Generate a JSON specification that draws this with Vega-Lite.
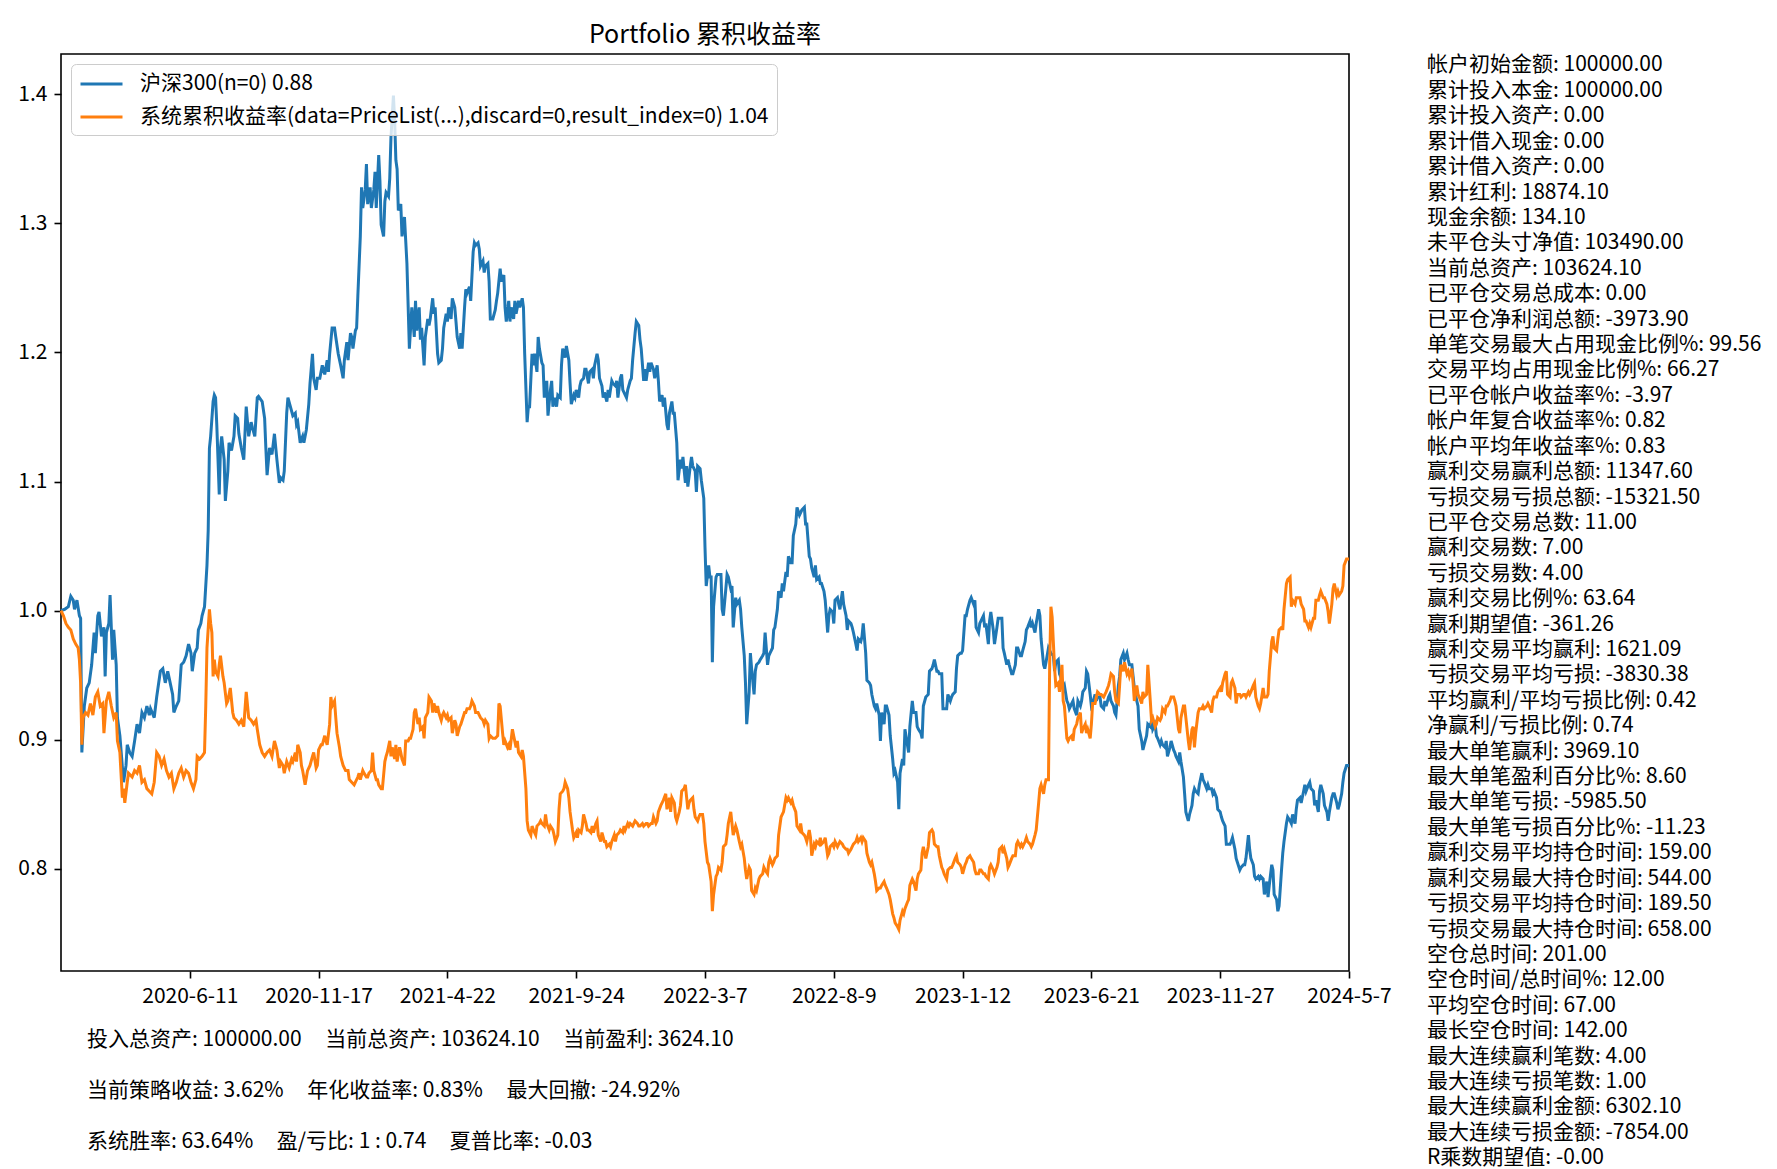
{
"$schema": "https://vega.github.io/schema/vega-lite/v6.json",
"background": "white",
"padding": {"left": 17, "top": 22, "right": 5, "bottom": 0},
"config": {"font": "Noto Sans CJK SC", "view": {"stroke": null}},
"columns": 2,
"spacing": {"row": 69, "column": 78},
"bounds": "flush",
"concat": [
{
"width": 1288,
"height": 917,
"view": {"stroke": "black", "strokeWidth": 1.6},
"title": {"text": "Portfolio 累积收益率", "fontSize": 25, "fontWeight": "normal", "color": "black", "offset": 6, "font": "Noto Sans CJK SC"},
"encoding": {
"x": {"field": "i", "type": "quantitative", "scale": {"domain": [0, 1050], "nice": false, "zero": false},
"axis": {"values": [105, 210, 315, 420, 525, 630, 735, 840, 945, 1050], "labelExpr": "['2020-6-11','2020-11-17','2021-4-22','2021-9-24','2022-3-7','2022-8-9','2023-1-12','2023-6-21','2023-11-27','2024-5-7'][round(datum.value/105)-1]", "title": null, "grid": false, "domain": false, "tickColor": "black", "tickWidth": 1.6, "tickSize": 7, "labelPadding": 7, "labelFontSize": 21, "labelColor": "black", "labelFont": "Noto Sans CJK SC", "labelOverlap": false, "labelFlush": false}},
"y": {"field": "v", "type": "quantitative", "scale": {"domain": [0.7207, 1.4313], "nice": false, "zero": false},
"axis": {"values": [0.8, 0.9, 1.0, 1.1, 1.2, 1.3, 1.4], "format": ".1f", "title": null, "grid": false, "domain": false, "tickColor": "black", "tickWidth": 1.6, "tickSize": 7, "labelPadding": 7, "labelFontSize": 21, "labelColor": "black", "labelFont": "Noto Sans CJK SC"}}
},
"layer": [
{
"data": {"values": [
{"i":0,"v":1.000},{"i":3,"v":1.001},{"i":6,"v":1.003},{"i":8,"v":1.011},{"i":10,"v":1.008},{"i":11,"v":1.001},{"i":13,"v":1.008},{"i":15,"v":0.996},{"i":16,"v":0.994},{"i":17,"v":0.890},{"i":19,"v":0.926},{"i":21,"v":0.940},{"i":23,"v":0.944},{"i":25,"v":0.958},{"i":27,"v":0.983},{"i":28,"v":0.967},{"i":30,"v":0.996},{"i":31,"v":0.999},{"i":33,"v":0.980},{"i":35,"v":0.987},{"i":36,"v":0.949},{"i":37,"v":0.983},{"i":39,"v":0.990},{"i":40,"v":1.012},{"i":42,"v":0.962},{"i":43,"v":0.985},{"i":45,"v":0.958},{"i":46,"v":0.917},{"i":48,"v":0.903},{"i":51,"v":0.867},{"i":53,"v":0.880},{"i":54,"v":0.896},{"i":56,"v":0.890},{"i":58,"v":0.887},{"i":60,"v":0.899},{"i":62,"v":0.912},{"i":64,"v":0.905},{"i":66,"v":0.921},{"i":68,"v":0.917},{"i":70,"v":0.926},{"i":72,"v":0.919},{"i":73,"v":0.924},{"i":76,"v":0.917},{"i":78,"v":0.933},{"i":81,"v":0.953},{"i":83,"v":0.955},{"i":85,"v":0.944},{"i":87,"v":0.953},{"i":89,"v":0.944},{"i":91,"v":0.935},{"i":92,"v":0.921},{"i":94,"v":0.926},{"i":96,"v":0.930},{"i":98,"v":0.958},{"i":100,"v":0.960},{"i":102,"v":0.965},{"i":104,"v":0.974},{"i":106,"v":0.967},{"i":107,"v":0.953},{"i":109,"v":0.967},{"i":111,"v":0.971},{"i":112,"v":0.985},{"i":114,"v":0.990},{"i":115,"v":0.996},{"i":117,"v":1.003},{"i":119,"v":1.035},{"i":120,"v":1.062},{"i":121,"v":1.126},{"i":122,"v":1.135},{"i":124,"v":1.162},{"i":125,"v":1.167},{"i":126,"v":1.165},{"i":127,"v":1.144},{"i":129,"v":1.090},{"i":130,"v":1.126},{"i":131,"v":1.135},{"i":133,"v":1.117},{"i":134,"v":1.085},{"i":136,"v":1.108},{"i":137,"v":1.130},{"i":139,"v":1.124},{"i":141,"v":1.135},{"i":142,"v":1.151},{"i":144,"v":1.149},{"i":145,"v":1.137},{"i":147,"v":1.126},{"i":149,"v":1.117},{"i":151,"v":1.158},{"i":153,"v":1.135},{"i":155,"v":1.146},{"i":156,"v":1.142},{"i":158,"v":1.135},{"i":160,"v":1.165},{"i":161,"v":1.166},{"i":164,"v":1.162},{"i":166,"v":1.149},{"i":167,"v":1.126},{"i":168,"v":1.105},{"i":170,"v":1.126},{"i":172,"v":1.121},{"i":174,"v":1.137},{"i":176,"v":1.117},{"i":178,"v":1.099},
{"i":179,"v":1.103},{"i":181,"v":1.101},{"i":182,"v":1.108},{"i":184,"v":1.153},{"i":185,"v":1.165},{"i":187,"v":1.158},{"i":189,"v":1.151},{"i":191,"v":1.153},{"i":192,"v":1.144},{"i":193,"v":1.146},{"i":195,"v":1.130},{"i":197,"v":1.135},{"i":198,"v":1.130},{"i":200,"v":1.140},{"i":202,"v":1.160},{"i":203,"v":1.176},{"i":205,"v":1.199},{"i":206,"v":1.180},{"i":208,"v":1.171},{"i":209,"v":1.180},{"i":211,"v":1.180},{"i":213,"v":1.190},{"i":215,"v":1.183},{"i":217,"v":1.194},{"i":218,"v":1.185},{"i":219,"v":1.199},{"i":221,"v":1.219},{"i":223,"v":1.219},{"i":224,"v":1.212},{"i":226,"v":1.199},{"i":228,"v":1.190},{"i":230,"v":1.180},{"i":231,"v":1.194},{"i":233,"v":1.208},{"i":234,"v":1.194},{"i":236,"v":1.215},{"i":237,"v":1.212},{"i":238,"v":1.203},{"i":240,"v":1.217},{"i":241,"v":1.219},{"i":242,"v":1.244},{"i":244,"v":1.290},{"i":245,"v":1.328},{"i":246,"v":1.312},{"i":248,"v":1.326},{"i":249,"v":1.346},{"i":250,"v":1.315},{"i":252,"v":1.328},{"i":253,"v":1.312},{"i":255,"v":1.326},{"i":256,"v":1.340},{"i":257,"v":1.312},{"i":259,"v":1.353},{"i":260,"v":1.333},{"i":261,"v":1.299},{"i":263,"v":1.290},{"i":264,"v":1.317},{"i":265,"v":1.324},{"i":267,"v":1.321},{"i":268,"v":1.335},{"i":269,"v":1.367},{"i":271,"v":1.399},{"i":272,"v":1.380},{"i":273,"v":1.349},{"i":274,"v":1.342},{"i":275,"v":1.310},{"i":277,"v":1.315},{"i":278,"v":1.290},{"i":280,"v":1.305},{"i":281,"v":1.287},{"i":282,"v":1.269},{"i":284,"v":1.203},{"i":285,"v":1.219},{"i":286,"v":1.235},{"i":288,"v":1.212},{"i":289,"v":1.240},{"i":290,"v":1.217},{"i":292,"v":1.235},{"i":293,"v":1.210},{"i":294,"v":1.219},{"i":296,"v":1.190},{"i":297,"v":1.212},{"i":299,"v":1.226},{"i":300,"v":1.221},{"i":301,"v":1.226},{"i":303,"v":1.242},{"i":304,"v":1.230},{"i":305,"v":1.235},{"i":307,"v":1.199},{"i":308,"v":1.192},{"i":310,"v":1.194},{"i":311,"v":1.203},{"i":312,"v":1.219},{"i":314,"v":1.230},{"i":315,"v":1.224},{"i":316,"v":1.235},{"i":318,"v":1.226},{"i":319,"v":1.242},{"i":321,"v":1.235},{"i":322,"v":1.224},{"i":323,"v":1.212},{"i":325,"v":1.203},{"i":326,"v":1.215},{"i":327,"v":1.203},{"i":329,"v":1.235},{"i":330,"v":1.249},{"i":331,"v":1.246},{"i":333,"v":1.251},{"i":334,"v":1.240},{"i":336,"v":1.278},{"i":337,"v":1.285},{"i":338,"v":1.283},{"i":340,"v":1.285},{"i":341,"v":1.280},{"i":342,"v":1.267},{"i":344,"v":1.271},{"i":345,"v":1.262},{"i":346,"v":1.267},{"i":348,"v":1.269},{"i":349,"v":1.255},{"i":350,"v":1.226},{"i":352,"v":1.226},{"i":354,"v":1.233},
{"i":355,"v":1.240},{"i":356,"v":1.246},{"i":358,"v":1.265},{"i":359,"v":1.255},{"i":361,"v":1.260},{"i":362,"v":1.235},{"i":363,"v":1.224},{"i":365,"v":1.240},{"i":366,"v":1.224},{"i":367,"v":1.235},{"i":369,"v":1.226},{"i":370,"v":1.240},{"i":371,"v":1.230},{"i":373,"v":1.240},{"i":374,"v":1.235},{"i":376,"v":1.242},{"i":377,"v":1.235},{"i":378,"v":1.199},{"i":380,"v":1.146},{"i":381,"v":1.158},{"i":382,"v":1.158},{"i":384,"v":1.199},{"i":385,"v":1.190},{"i":386,"v":1.199},{"i":388,"v":1.185},{"i":389,"v":1.212},{"i":390,"v":1.203},{"i":392,"v":1.192},{"i":393,"v":1.190},{"i":394,"v":1.165},{"i":396,"v":1.178},{"i":397,"v":1.151},{"i":399,"v":1.171},{"i":400,"v":1.178},{"i":401,"v":1.158},{"i":403,"v":1.165},{"i":404,"v":1.158},{"i":405,"v":1.167},{"i":407,"v":1.165},{"i":408,"v":1.190},{"i":409,"v":1.203},{"i":411,"v":1.196},{"i":412,"v":1.205},{"i":414,"v":1.194},{"i":415,"v":1.176},{"i":416,"v":1.160},{"i":418,"v":1.167},{"i":419,"v":1.165},{"i":420,"v":1.171},{"i":422,"v":1.165},{"i":423,"v":1.174},{"i":424,"v":1.178},{"i":426,"v":1.180},{"i":427,"v":1.187},{"i":428,"v":1.187},{"i":430,"v":1.176},{"i":431,"v":1.185},{"i":433,"v":1.187},{"i":434,"v":1.180},{"i":435,"v":1.190},{"i":437,"v":1.199},{"i":438,"v":1.194},{"i":439,"v":1.180},{"i":441,"v":1.174},{"i":442,"v":1.165},{"i":443,"v":1.169},{"i":445,"v":1.162},{"i":446,"v":1.171},{"i":447,"v":1.165},{"i":449,"v":1.178},{"i":450,"v":1.176},{"i":452,"v":1.174},{"i":453,"v":1.178},{"i":454,"v":1.165},{"i":456,"v":1.180},{"i":457,"v":1.183},{"i":458,"v":1.171},{"i":460,"v":1.167},{"i":461,"v":1.165},{"i":462,"v":1.171},{"i":464,"v":1.178},{"i":465,"v":1.180},{"i":466,"v":1.194},{"i":468,"v":1.215},{"i":469,"v":1.224},{"i":471,"v":1.221},{"i":472,"v":1.210},{"i":473,"v":1.203},{"i":475,"v":1.178},{"i":476,"v":1.187},{"i":477,"v":1.178},{"i":479,"v":1.192},{"i":480,"v":1.185},{"i":481,"v":1.192},{"i":483,"v":1.187},{"i":484,"v":1.180},{"i":486,"v":1.190},{"i":487,"v":1.178},{"i":488,"v":1.162},{"i":490,"v":1.167},{"i":491,"v":1.158},{"i":492,"v":1.165},{"i":494,"v":1.144},{"i":495,"v":1.140},{"i":496,"v":1.153},{"i":498,"v":1.162},{"i":499,"v":1.153},{"i":500,"v":1.153},{"i":502,"v":1.130},{"i":503,"v":1.101},{"i":505,"v":1.117},{"i":506,"v":1.110},{"i":507,"v":1.119},{"i":509,"v":1.099},{"i":510,"v":1.112},{"i":511,"v":1.096},{"i":513,"v":1.112},{"i":514,"v":1.119},{"i":515,"v":1.112},{"i":517,"v":1.108},{"i":518,"v":1.092},{"i":519,"v":1.112},{"i":521,"v":1.110},{"i":522,"v":1.101},{"i":524,"v":1.087},{"i":525,"v":1.049},{"i":526,"v":1.019},{"i":528,"v":1.035},{"i":529,"v":1.026},
{"i":530,"v":1.026},{"i":531,"v":0.960},{"i":532,"v":1.003},{"i":534,"v":1.026},{"i":535,"v":1.028},{"i":536,"v":1.028},{"i":538,"v":1.028},{"i":539,"v":1.001},{"i":540,"v":0.996},{"i":542,"v":1.017},{"i":543,"v":1.028},{"i":544,"v":1.026},{"i":546,"v":1.017},{"i":547,"v":1.019},{"i":548,"v":0.987},{"i":550,"v":1.010},{"i":551,"v":1.005},{"i":553,"v":1.008},{"i":554,"v":1.001},{"i":555,"v":0.987},{"i":557,"v":0.965},{"i":558,"v":0.944},{"i":559,"v":0.912},{"i":561,"v":0.937},{"i":562,"v":0.967},{"i":563,"v":0.955},{"i":565,"v":0.935},{"i":566,"v":0.953},{"i":567,"v":0.958},{"i":569,"v":0.960},{"i":570,"v":0.962},{"i":572,"v":0.965},{"i":573,"v":0.967},{"i":574,"v":0.983},{"i":576,"v":0.958},{"i":577,"v":0.965},{"i":578,"v":0.967},{"i":580,"v":0.971},{"i":581,"v":0.985},{"i":582,"v":0.987},{"i":584,"v":1.001},{"i":585,"v":1.015},{"i":587,"v":1.010},{"i":588,"v":1.021},{"i":589,"v":1.015},{"i":591,"v":1.030},{"i":592,"v":1.026},{"i":593,"v":1.042},{"i":595,"v":1.037},{"i":596,"v":1.037},{"i":597,"v":1.058},{"i":599,"v":1.067},{"i":600,"v":1.080},{"i":602,"v":1.074},{"i":603,"v":1.076},{"i":604,"v":1.078},{"i":606,"v":1.080},{"i":607,"v":1.067},{"i":608,"v":1.067},{"i":610,"v":1.042},{"i":611,"v":1.040},{"i":612,"v":1.033},{"i":614,"v":1.026},{"i":615,"v":1.035},{"i":616,"v":1.024},{"i":618,"v":1.026},{"i":619,"v":1.021},{"i":620,"v":1.021},{"i":622,"v":1.015},{"i":623,"v":1.008},{"i":625,"v":0.983},{"i":626,"v":0.996},{"i":627,"v":1.001},{"i":629,"v":0.999},{"i":630,"v":0.990},{"i":631,"v":1.008},{"i":633,"v":1.010},{"i":634,"v":1.005},{"i":635,"v":1.001},{"i":637,"v":1.015},{"i":638,"v":1.005},{"i":640,"v":0.996},{"i":641,"v":0.985},{"i":642,"v":0.992},{"i":644,"v":0.990},{"i":645,"v":0.987},{"i":646,"v":0.983},{"i":648,"v":0.974},{"i":649,"v":0.969},{"i":650,"v":0.978},{"i":652,"v":0.976},{"i":653,"v":0.980},{"i":654,"v":0.990},{"i":656,"v":0.967},{"i":657,"v":0.946},{"i":659,"v":0.944},{"i":660,"v":0.942},{"i":661,"v":0.935},{"i":663,"v":0.926},{"i":664,"v":0.924},{"i":665,"v":0.928},{"i":667,"v":0.919},{"i":668,"v":0.899},{"i":669,"v":0.921},{"i":671,"v":0.912},{"i":672,"v":0.926},{"i":673,"v":0.926},{"i":675,"v":0.919},{"i":676,"v":0.903},{"i":678,"v":0.885},{"i":679,"v":0.874},{"i":680,"v":0.876},{"i":682,"v":0.867},{"i":683,"v":0.846},{"i":684,"v":0.874},{"i":686,"v":0.885},{"i":687,"v":0.880},{"i":688,"v":0.908},{"i":690,"v":0.896},{"i":691,"v":0.890},{"i":692,"v":0.910},{"i":694,"v":0.930},{"i":695,"v":0.921},{"i":697,"v":0.921},{"i":698,"v":0.910},{"i":699,"v":0.908},{"i":701,"v":0.905},{"i":702,"v":0.901},{"i":703,"v":0.926},
{"i":705,"v":0.933},{"i":707,"v":0.935},{"i":708,"v":0.953},{"i":710,"v":0.955},{"i":711,"v":0.958},{"i":712,"v":0.962},{"i":714,"v":0.953},{"i":715,"v":0.953},{"i":716,"v":0.951},{"i":718,"v":0.951},{"i":719,"v":0.924},{"i":720,"v":0.924},{"i":722,"v":0.924},{"i":723,"v":0.935},{"i":725,"v":0.930},{"i":726,"v":0.933},{"i":727,"v":0.935},{"i":729,"v":0.937},{"i":730,"v":0.955},{"i":731,"v":0.965},{"i":733,"v":0.967},{"i":734,"v":0.967},{"i":735,"v":0.969},{"i":737,"v":0.996},{"i":738,"v":0.996},{"i":739,"v":1.001},{"i":741,"v":1.008},{"i":742,"v":1.010},{"i":744,"v":1.005},{"i":745,"v":1.008},{"i":746,"v":0.987},{"i":748,"v":0.983},{"i":749,"v":0.990},{"i":750,"v":0.992},{"i":752,"v":0.996},{"i":753,"v":0.987},{"i":754,"v":0.990},{"i":756,"v":0.974},{"i":757,"v":0.992},{"i":758,"v":0.999},{"i":760,"v":0.985},{"i":761,"v":0.974},{"i":763,"v":0.987},{"i":764,"v":0.994},{"i":765,"v":0.994},{"i":767,"v":0.994},{"i":768,"v":0.971},{"i":769,"v":0.967},{"i":771,"v":0.958},{"i":772,"v":0.962},{"i":773,"v":0.958},{"i":775,"v":0.951},{"i":776,"v":0.951},{"i":778,"v":0.958},{"i":779,"v":0.971},{"i":780,"v":0.971},{"i":782,"v":0.965},{"i":783,"v":0.965},{"i":784,"v":0.969},{"i":786,"v":0.976},{"i":787,"v":0.985},{"i":788,"v":0.987},{"i":790,"v":0.992},{"i":791,"v":0.987},{"i":792,"v":0.990},{"i":794,"v":0.983},{"i":795,"v":0.990},{"i":797,"v":1.001},{"i":798,"v":0.996},{"i":799,"v":0.978},{"i":801,"v":0.958},{"i":802,"v":0.955},{"i":803,"v":0.960},{"i":805,"v":0.971},{"i":807,"v":0.967},{"i":809,"v":0.965},{"i":810,"v":0.953},{"i":811,"v":0.960},{"i":813,"v":0.962},{"i":814,"v":0.951},{"i":816,"v":0.946},{"i":817,"v":0.940},{"i":818,"v":0.942},{"i":820,"v":0.930},{"i":821,"v":0.928},{"i":822,"v":0.924},{"i":824,"v":0.928},{"i":825,"v":0.930},{"i":826,"v":0.924},{"i":828,"v":0.919},{"i":829,"v":0.930},{"i":831,"v":0.926},{"i":832,"v":0.930},{"i":833,"v":0.937},{"i":835,"v":0.940},{"i":836,"v":0.953},{"i":837,"v":0.951},{"i":839,"v":0.935},{"i":840,"v":0.926},{"i":841,"v":0.928},{"i":843,"v":0.935},{"i":844,"v":0.930},{"i":845,"v":0.933},{"i":847,"v":0.933},{"i":848,"v":0.926},{"i":850,"v":0.924},{"i":851,"v":0.930},{"i":852,"v":0.926},{"i":854,"v":0.933},{"i":855,"v":0.935},{"i":856,"v":0.930},{"i":858,"v":0.926},{"i":859,"v":0.921},{"i":860,"v":0.919},{"i":862,"v":0.942},{"i":863,"v":0.949},{"i":864,"v":0.962},{"i":866,"v":0.967},{"i":867,"v":0.962},{"i":869,"v":0.967},{"i":870,"v":0.962},{"i":871,"v":0.958},{"i":873,"v":0.958},{"i":874,"v":0.949},{"i":875,"v":0.940},{"i":877,"v":0.930},{"i":878,"v":0.926},{"i":879,"v":0.908},
{"i":881,"v":0.899},{"i":882,"v":0.892},{"i":883,"v":0.896},{"i":885,"v":0.903},{"i":886,"v":0.912},{"i":888,"v":0.910},{"i":889,"v":0.915},{"i":890,"v":0.908},{"i":892,"v":0.912},{"i":893,"v":0.903},{"i":894,"v":0.901},{"i":896,"v":0.896},{"i":897,"v":0.899},{"i":898,"v":0.896},{"i":900,"v":0.894},{"i":901,"v":0.899},{"i":902,"v":0.887},{"i":904,"v":0.894},{"i":905,"v":0.899},{"i":907,"v":0.892},{"i":908,"v":0.890},{"i":909,"v":0.887},{"i":911,"v":0.883},{"i":912,"v":0.890},{"i":913,"v":0.883},{"i":915,"v":0.871},{"i":916,"v":0.858},{"i":917,"v":0.844},{"i":919,"v":0.837},{"i":920,"v":0.842},{"i":922,"v":0.849},{"i":923,"v":0.858},{"i":924,"v":0.862},{"i":925,"v":0.860},{"i":927,"v":0.858},{"i":928,"v":0.865},{"i":930,"v":0.874},{"i":931,"v":0.869},{"i":932,"v":0.867},{"i":934,"v":0.862},{"i":935,"v":0.865},{"i":936,"v":0.862},{"i":938,"v":0.862},{"i":939,"v":0.858},{"i":940,"v":0.860},{"i":942,"v":0.855},{"i":943,"v":0.846},{"i":945,"v":0.844},{"i":946,"v":0.840},{"i":947,"v":0.837},{"i":949,"v":0.833},{"i":950,"v":0.819},{"i":951,"v":0.819},{"i":953,"v":0.819},{"i":954,"v":0.821},{"i":955,"v":0.824},{"i":957,"v":0.815},{"i":958,"v":0.808},{"i":959,"v":0.805},{"i":961,"v":0.799},{"i":962,"v":0.801},{"i":964,"v":0.803},{"i":965,"v":0.803},{"i":966,"v":0.808},{"i":968,"v":0.826},{"i":969,"v":0.815},{"i":970,"v":0.808},{"i":972,"v":0.803},{"i":973,"v":0.794},{"i":974,"v":0.792},{"i":976,"v":0.794},{"i":977,"v":0.792},{"i":978,"v":0.794},{"i":980,"v":0.792},{"i":981,"v":0.780},{"i":983,"v":0.790},{"i":984,"v":0.778},{"i":985,"v":0.787},{"i":987,"v":0.803},{"i":988,"v":0.799},{"i":989,"v":0.780},{"i":991,"v":0.776},{"i":992,"v":0.767},{"i":993,"v":0.771},{"i":995,"v":0.799},{"i":996,"v":0.812},{"i":997,"v":0.821},{"i":999,"v":0.835},{"i":1000,"v":0.840},{"i":1002,"v":0.837},{"i":1003,"v":0.835},{"i":1004,"v":0.842},{"i":1006,"v":0.835},{"i":1007,"v":0.846},{"i":1008,"v":0.853},{"i":1010,"v":0.855},{"i":1011,"v":0.851},{"i":1013,"v":0.860},{"i":1014,"v":0.865},{"i":1015,"v":0.860},{"i":1017,"v":0.865},{"i":1018,"v":0.867},{"i":1019,"v":0.862},{"i":1021,"v":0.860},{"i":1022,"v":0.849},{"i":1023,"v":0.853},{"i":1025,"v":0.844},{"i":1026,"v":0.860},{"i":1027,"v":0.865},{"i":1029,"v":0.858},{"i":1030,"v":0.849},{"i":1032,"v":0.844},{"i":1033,"v":0.837},{"i":1034,"v":0.844},{"i":1036,"v":0.855},{"i":1037,"v":0.858},{"i":1038,"v":0.858},{"i":1040,"v":0.851},{"i":1041,"v":0.846},{"i":1042,"v":0.849},{"i":1044,"v":0.858},{"i":1045,"v":0.867},{"i":1046,"v":0.874},{"i":1048,"v":0.880},{"i":1049,"v":0.880},{"i":1050,"v":0.880}
]},
"mark": {"type": "line", "strokeWidth": 3},
"encoding": {"color": {"datum": "a", "type": "nominal", "scale": {"domain": ["a", "b"], "range": ["#1f77b4", "#ff7f0e"]},
"legend": {"title": null, "orient": "none", "legendX": 10, "legendY": 10, "labelExpr": "datum.value == 'a' ? '沪深300(n=0) 0.88' : '系统累积收益率(data=PriceList(...),discard=0,result_index=0) 1.04'", "symbolType": "M-1,0H3", "symbolSize": 441, "symbolStrokeWidth": 3, "labelFontSize": 21, "labelFont": "Noto Sans CJK SC", "labelColor": "black", "labelLimit": 2000, "padding": 8, "rowPadding": 11, "labelOffset": 37, "fillColor": "rgba(255,255,255,0.8)", "strokeColor": "#cccccc", "cornerRadius": 5}}}
},
{
"data": {"values": [
{"i":0,"v":1.000},{"i":2,"v":0.996},{"i":4,"v":0.990},{"i":6,"v":0.987},{"i":8,"v":0.985},{"i":10,"v":0.978},{"i":12,"v":0.974},{"i":14,"v":0.971},{"i":15,"v":0.962},{"i":16,"v":0.944},{"i":17,"v":0.896},{"i":18,"v":0.917},{"i":20,"v":0.921},{"i":22,"v":0.919},{"i":24,"v":0.928},{"i":26,"v":0.919},{"i":28,"v":0.933},{"i":30,"v":0.937},{"i":32,"v":0.926},{"i":34,"v":0.928},{"i":35,"v":0.905},{"i":37,"v":0.930},{"i":39,"v":0.937},{"i":41,"v":0.926},{"i":43,"v":0.917},{"i":45,"v":0.921},{"i":46,"v":0.899},{"i":48,"v":0.890},{"i":50,"v":0.855},{"i":51,"v":0.862},{"i":52,"v":0.851},{"i":54,"v":0.867},{"i":55,"v":0.874},{"i":58,"v":0.871},{"i":60,"v":0.876},{"i":62,"v":0.874},{"i":64,"v":0.880},{"i":66,"v":0.867},{"i":68,"v":0.869},{"i":70,"v":0.862},{"i":72,"v":0.860},{"i":74,"v":0.858},{"i":76,"v":0.867},{"i":78,"v":0.890},{"i":80,"v":0.887},{"i":82,"v":0.880},{"i":84,"v":0.885},{"i":86,"v":0.876},{"i":88,"v":0.871},{"i":90,"v":0.874},{"i":92,"v":0.862},{"i":94,"v":0.867},{"i":96,"v":0.874},{"i":98,"v":0.878},{"i":100,"v":0.871},{"i":102,"v":0.876},{"i":104,"v":0.874},{"i":106,"v":0.867},{"i":108,"v":0.862},{"i":110,"v":0.869},{"i":111,"v":0.887},{"i":113,"v":0.885},{"i":115,"v":0.887},{"i":117,"v":0.890},{"i":118,"v":0.926},{"i":119,"v":0.971},{"i":121,"v":1.001},{"i":122,"v":0.990},{"i":123,"v":0.983},{"i":124,"v":0.949},{"i":125,"v":0.962},{"i":126,"v":0.953},{"i":128,"v":0.949},{"i":129,"v":0.958},{"i":130,"v":0.965},{"i":132,"v":0.949},{"i":133,"v":0.944},{"i":135,"v":0.928},{"i":136,"v":0.930},{"i":138,"v":0.940},{"i":140,"v":0.921},{"i":141,"v":0.917},{"i":143,"v":0.915},{"i":145,"v":0.912},{"i":147,"v":0.915},{"i":149,"v":0.910},{"i":151,"v":0.937},{"i":153,"v":0.917},{"i":155,"v":0.915},{"i":157,"v":0.912},{"i":159,"v":0.915},{"i":160,"v":0.908},{"i":162,"v":0.896},{"i":164,"v":0.890},{"i":166,"v":0.887},{"i":168,"v":0.890},{"i":170,"v":0.892},{"i":172,"v":0.887},{"i":174,"v":0.899},{"i":176,"v":0.892},{"i":178,"v":0.878},
{"i":179,"v":0.883},{"i":181,"v":0.880},{"i":182,"v":0.874},{"i":184,"v":0.883},{"i":186,"v":0.878},{"i":188,"v":0.885},{"i":189,"v":0.883},{"i":191,"v":0.890},{"i":192,"v":0.883},{"i":193,"v":0.896},{"i":195,"v":0.890},{"i":196,"v":0.880},{"i":197,"v":0.876},{"i":199,"v":0.865},{"i":201,"v":0.876},{"i":203,"v":0.880},{"i":205,"v":0.887},{"i":206,"v":0.890},{"i":208,"v":0.878},{"i":209,"v":0.880},{"i":210,"v":0.892},{"i":212,"v":0.896},{"i":213,"v":0.896},{"i":215,"v":0.903},{"i":216,"v":0.899},{"i":217,"v":0.896},{"i":219,"v":0.912},{"i":220,"v":0.933},{"i":221,"v":0.926},{"i":223,"v":0.930},{"i":224,"v":0.917},{"i":225,"v":0.905},{"i":227,"v":0.894},{"i":228,"v":0.887},{"i":230,"v":0.880},{"i":232,"v":0.876},{"i":234,"v":0.876},{"i":235,"v":0.869},{"i":237,"v":0.867},{"i":239,"v":0.865},{"i":240,"v":0.867},{"i":242,"v":0.871},{"i":243,"v":0.874},{"i":244,"v":0.869},{"i":246,"v":0.876},{"i":247,"v":0.874},{"i":249,"v":0.871},{"i":250,"v":0.871},{"i":251,"v":0.874},{"i":253,"v":0.876},{"i":254,"v":0.890},{"i":255,"v":0.876},{"i":257,"v":0.869},{"i":258,"v":0.869},{"i":259,"v":0.865},{"i":261,"v":0.862},{"i":262,"v":0.862},{"i":264,"v":0.883},{"i":265,"v":0.887},{"i":266,"v":0.890},{"i":268,"v":0.899},{"i":269,"v":0.887},{"i":270,"v":0.894},{"i":272,"v":0.885},{"i":273,"v":0.896},{"i":274,"v":0.883},{"i":276,"v":0.894},{"i":277,"v":0.890},{"i":278,"v":0.885},{"i":280,"v":0.880},{"i":281,"v":0.899},{"i":283,"v":0.899},{"i":284,"v":0.901},{"i":285,"v":0.901},{"i":287,"v":0.908},{"i":288,"v":0.921},{"i":289,"v":0.924},{"i":291,"v":0.912},{"i":292,"v":0.917},{"i":293,"v":0.908},{"i":295,"v":0.910},{"i":296,"v":0.901},{"i":297,"v":0.917},{"i":299,"v":0.921},{"i":300,"v":0.933},{"i":302,"v":0.930},{"i":303,"v":0.921},{"i":304,"v":0.928},{"i":306,"v":0.921},{"i":307,"v":0.926},{"i":308,"v":0.921},{"i":310,"v":0.915},{"i":311,"v":0.919},{"i":312,"v":0.921},{"i":314,"v":0.917},{"i":315,"v":0.919},{"i":316,"v":0.915},{"i":318,"v":0.917},{"i":319,"v":0.905},{"i":321,"v":0.915},{"i":322,"v":0.912},{"i":323,"v":0.903},{"i":325,"v":0.910},{"i":326,"v":0.912},{"i":327,"v":0.915},{"i":329,"v":0.921},{"i":330,"v":0.921},{"i":331,"v":0.924},{"i":333,"v":0.924},{"i":334,"v":0.926},{"i":335,"v":0.930},{"i":337,"v":0.926},{"i":338,"v":0.921},{"i":340,"v":0.921},{"i":341,"v":0.919},{"i":342,"v":0.917},{"i":344,"v":0.915},{"i":345,"v":0.912},{"i":346,"v":0.915},{"i":348,"v":0.912},{"i":349,"v":0.901},{"i":350,"v":0.903},{"i":352,"v":0.901},{"i":354,"v":0.901},
{"i":356,"v":0.903},{"i":357,"v":0.928},{"i":358,"v":0.926},{"i":360,"v":0.905},{"i":361,"v":0.896},{"i":362,"v":0.899},{"i":364,"v":0.894},{"i":365,"v":0.896},{"i":366,"v":0.892},{"i":368,"v":0.908},{"i":369,"v":0.903},{"i":371,"v":0.894},{"i":372,"v":0.899},{"i":373,"v":0.890},{"i":375,"v":0.887},{"i":376,"v":0.892},{"i":377,"v":0.887},{"i":379,"v":0.862},{"i":380,"v":0.837},{"i":381,"v":0.830},{"i":383,"v":0.826},{"i":384,"v":0.833},{"i":386,"v":0.828},{"i":387,"v":0.826},{"i":388,"v":0.833},{"i":390,"v":0.835},{"i":391,"v":0.837},{"i":392,"v":0.835},{"i":394,"v":0.833},{"i":395,"v":0.842},{"i":396,"v":0.835},{"i":398,"v":0.830},{"i":399,"v":0.833},{"i":401,"v":0.830},{"i":402,"v":0.826},{"i":403,"v":0.821},{"i":405,"v":0.826},{"i":406,"v":0.846},{"i":407,"v":0.858},{"i":409,"v":0.860},{"i":410,"v":0.862},{"i":411,"v":0.867},{"i":413,"v":0.862},{"i":414,"v":0.855},{"i":415,"v":0.844},{"i":417,"v":0.830},{"i":418,"v":0.824},{"i":420,"v":0.828},{"i":421,"v":0.824},{"i":422,"v":0.830},{"i":424,"v":0.828},{"i":425,"v":0.833},{"i":426,"v":0.842},{"i":428,"v":0.835},{"i":429,"v":0.830},{"i":430,"v":0.830},{"i":432,"v":0.828},{"i":433,"v":0.833},{"i":434,"v":0.828},{"i":436,"v":0.835},{"i":437,"v":0.837},{"i":438,"v":0.826},{"i":440,"v":0.821},{"i":441,"v":0.828},{"i":443,"v":0.821},{"i":444,"v":0.821},{"i":445,"v":0.817},{"i":447,"v":0.819},{"i":448,"v":0.817},{"i":449,"v":0.821},{"i":451,"v":0.826},{"i":452,"v":0.821},{"i":453,"v":0.826},{"i":455,"v":0.828},{"i":456,"v":0.830},{"i":458,"v":0.828},{"i":459,"v":0.833},{"i":460,"v":0.830},{"i":462,"v":0.835},{"i":463,"v":0.833},{"i":464,"v":0.835},{"i":466,"v":0.833},{"i":467,"v":0.835},{"i":468,"v":0.837},{"i":470,"v":0.835},{"i":471,"v":0.833},{"i":472,"v":0.833},{"i":474,"v":0.835},{"i":475,"v":0.833},{"i":477,"v":0.835},{"i":478,"v":0.835},{"i":479,"v":0.833},{"i":481,"v":0.835},{"i":482,"v":0.835},{"i":483,"v":0.840},{"i":485,"v":0.835},{"i":486,"v":0.837},{"i":487,"v":0.844},{"i":489,"v":0.849},{"i":490,"v":0.851},{"i":491,"v":0.853},{"i":493,"v":0.858},{"i":494,"v":0.846},{"i":496,"v":0.855},{"i":497,"v":0.844},{"i":498,"v":0.855},{"i":500,"v":0.851},{"i":501,"v":0.840},{"i":502,"v":0.837},{"i":504,"v":0.844},{"i":505,"v":0.849},{"i":506,"v":0.860},{"i":508,"v":0.862},{"i":509,"v":0.865},{"i":511,"v":0.846},{"i":512,"v":0.851},{"i":513,"v":0.853},{"i":515,"v":0.855},{"i":516,"v":0.846},{"i":517,"v":0.840},{"i":519,"v":0.837},{"i":520,"v":0.840},{"i":521,"v":0.842},{"i":523,"v":0.842},{"i":524,"v":0.835},{"i":525,"v":0.821},{"i":527,"v":0.805},{"i":528,"v":0.803},
{"i":530,"v":0.790},{"i":531,"v":0.767},{"i":532,"v":0.780},{"i":534,"v":0.794},{"i":535,"v":0.796},{"i":536,"v":0.801},{"i":538,"v":0.799},{"i":539,"v":0.805},{"i":540,"v":0.817},{"i":542,"v":0.819},{"i":543,"v":0.826},{"i":544,"v":0.835},{"i":546,"v":0.844},{"i":547,"v":0.835},{"i":548,"v":0.826},{"i":550,"v":0.833},{"i":551,"v":0.830},{"i":553,"v":0.821},{"i":554,"v":0.817},{"i":555,"v":0.819},{"i":557,"v":0.808},{"i":558,"v":0.799},{"i":559,"v":0.792},{"i":561,"v":0.801},{"i":562,"v":0.799},{"i":563,"v":0.783},{"i":565,"v":0.780},{"i":566,"v":0.785},{"i":567,"v":0.783},{"i":569,"v":0.792},{"i":570,"v":0.794},{"i":572,"v":0.796},{"i":573,"v":0.801},{"i":574,"v":0.799},{"i":576,"v":0.796},{"i":577,"v":0.805},{"i":578,"v":0.808},{"i":580,"v":0.803},{"i":581,"v":0.805},{"i":582,"v":0.808},{"i":584,"v":0.810},{"i":585,"v":0.826},{"i":587,"v":0.840},{"i":588,"v":0.842},{"i":589,"v":0.844},{"i":591,"v":0.855},{"i":592,"v":0.853},{"i":593,"v":0.855},{"i":595,"v":0.851},{"i":596,"v":0.853},{"i":597,"v":0.849},{"i":599,"v":0.844},{"i":600,"v":0.833},{"i":602,"v":0.830},{"i":603,"v":0.835},{"i":604,"v":0.828},{"i":606,"v":0.826},{"i":607,"v":0.824},{"i":608,"v":0.821},{"i":610,"v":0.830},{"i":611,"v":0.824},{"i":612,"v":0.810},{"i":614,"v":0.819},{"i":615,"v":0.817},{"i":616,"v":0.821},{"i":618,"v":0.819},{"i":619,"v":0.824},{"i":620,"v":0.819},{"i":622,"v":0.821},{"i":623,"v":0.824},{"i":625,"v":0.810},{"i":626,"v":0.812},{"i":627,"v":0.817},{"i":629,"v":0.819},{"i":630,"v":0.817},{"i":631,"v":0.821},{"i":633,"v":0.817},{"i":634,"v":0.819},{"i":635,"v":0.821},{"i":637,"v":0.819},{"i":638,"v":0.817},{"i":640,"v":0.815},{"i":641,"v":0.815},{"i":642,"v":0.812},{"i":644,"v":0.815},{"i":645,"v":0.817},{"i":646,"v":0.819},{"i":648,"v":0.821},{"i":649,"v":0.824},{"i":650,"v":0.821},{"i":652,"v":0.824},{"i":653,"v":0.821},{"i":654,"v":0.824},{"i":656,"v":0.821},{"i":657,"v":0.812},{"i":659,"v":0.805},{"i":660,"v":0.803},{"i":661,"v":0.805},{"i":663,"v":0.796},{"i":664,"v":0.790},{"i":665,"v":0.783},{"i":667,"v":0.785},{"i":668,"v":0.785},{"i":669,"v":0.787},{"i":671,"v":0.790},{"i":672,"v":0.787},{"i":673,"v":0.785},{"i":675,"v":0.780},{"i":676,"v":0.776},{"i":678,"v":0.765},{"i":679,"v":0.762},{"i":680,"v":0.758},{"i":682,"v":0.755},{"i":683,"v":0.753},{"i":684,"v":0.760},{"i":686,"v":0.767},{"i":687,"v":0.765},{"i":688,"v":0.769},{"i":690,"v":0.774},{"i":691,"v":0.776},{"i":692,"v":0.787},{"i":694,"v":0.792},{"i":695,"v":0.790},{"i":697,"v":0.783},{"i":698,"v":0.792},{"i":699,"v":0.796},{"i":701,"v":0.799},{"i":702,"v":0.812},{"i":703,"v":0.817},
{"i":705,"v":0.808},{"i":707,"v":0.817},{"i":708,"v":0.828},{"i":710,"v":0.830},{"i":711,"v":0.828},{"i":712,"v":0.819},{"i":714,"v":0.817},{"i":715,"v":0.817},{"i":716,"v":0.810},{"i":718,"v":0.801},{"i":719,"v":0.799},{"i":720,"v":0.796},{"i":722,"v":0.792},{"i":723,"v":0.799},{"i":725,"v":0.801},{"i":726,"v":0.801},{"i":727,"v":0.803},{"i":729,"v":0.808},{"i":730,"v":0.810},{"i":731,"v":0.805},{"i":733,"v":0.803},{"i":734,"v":0.801},{"i":735,"v":0.796},{"i":737,"v":0.803},{"i":738,"v":0.805},{"i":739,"v":0.808},{"i":741,"v":0.810},{"i":742,"v":0.808},{"i":744,"v":0.805},{"i":745,"v":0.799},{"i":746,"v":0.796},{"i":748,"v":0.796},{"i":749,"v":0.799},{"i":750,"v":0.799},{"i":752,"v":0.796},{"i":753,"v":0.796},{"i":754,"v":0.794},{"i":756,"v":0.792},{"i":757,"v":0.801},{"i":758,"v":0.803},{"i":760,"v":0.799},{"i":761,"v":0.796},{"i":763,"v":0.801},{"i":764,"v":0.805},{"i":765,"v":0.815},{"i":767,"v":0.817},{"i":768,"v":0.812},{"i":769,"v":0.815},{"i":771,"v":0.808},{"i":772,"v":0.801},{"i":773,"v":0.803},{"i":775,"v":0.808},{"i":776,"v":0.810},{"i":778,"v":0.810},{"i":779,"v":0.819},{"i":780,"v":0.821},{"i":782,"v":0.817},{"i":783,"v":0.819},{"i":784,"v":0.817},{"i":786,"v":0.821},{"i":787,"v":0.824},{"i":788,"v":0.821},{"i":790,"v":0.819},{"i":791,"v":0.817},{"i":792,"v":0.819},{"i":794,"v":0.826},{"i":795,"v":0.830},{"i":797,"v":0.851},{"i":798,"v":0.862},{"i":799,"v":0.865},{"i":801,"v":0.858},{"i":802,"v":0.865},{"i":803,"v":0.869},{"i":805,"v":0.869},{"i":806,"v":0.960},{"i":807,"v":1.003},{"i":808,"v":0.995},{"i":809,"v":0.975},{"i":810,"v":0.955},{"i":811,"v":0.942},{"i":813,"v":0.944},{"i":814,"v":0.937},{"i":816,"v":0.958},{"i":817,"v":0.930},{"i":818,"v":0.926},{"i":820,"v":0.901},{"i":821,"v":0.899},{"i":822,"v":0.901},{"i":824,"v":0.903},{"i":825,"v":0.899},{"i":826,"v":0.908},{"i":828,"v":0.912},{"i":829,"v":0.917},{"i":831,"v":0.921},{"i":832,"v":0.905},{"i":833,"v":0.908},{"i":835,"v":0.912},{"i":836,"v":0.905},{"i":837,"v":0.908},{"i":839,"v":0.901},{"i":840,"v":0.912},{"i":841,"v":0.928},{"i":843,"v":0.928},{"i":844,"v":0.933},{"i":845,"v":0.937},{"i":847,"v":0.935},{"i":848,"v":0.935},{"i":850,"v":0.933},{"i":851,"v":0.935},{"i":852,"v":0.937},{"i":854,"v":0.942},{"i":855,"v":0.946},{"i":856,"v":0.951},{"i":858,"v":0.949},{"i":859,"v":0.937},{"i":860,"v":0.930},{"i":862,"v":0.928},{"i":863,"v":0.942},{"i":864,"v":0.958},{"i":866,"v":0.953},{"i":867,"v":0.960},{"i":869,"v":0.951},{"i":870,"v":0.953},{"i":871,"v":0.949},{"i":873,"v":0.955},{"i":874,"v":0.944},{"i":875,"v":0.930},{"i":877,"v":0.942},{"i":878,"v":0.935},{"i":879,"v":0.933},
{"i":881,"v":0.928},{"i":882,"v":0.937},{"i":883,"v":0.933},{"i":885,"v":0.935},{"i":886,"v":0.958},{"i":888,"v":0.930},{"i":889,"v":0.915},{"i":890,"v":0.917},{"i":892,"v":0.910},{"i":893,"v":0.912},{"i":894,"v":0.917},{"i":896,"v":0.915},{"i":897,"v":0.917},{"i":898,"v":0.924},{"i":900,"v":0.921},{"i":901,"v":0.926},{"i":902,"v":0.926},{"i":904,"v":0.930},{"i":905,"v":0.933},{"i":907,"v":0.933},{"i":908,"v":0.930},{"i":909,"v":0.926},{"i":911,"v":0.908},{"i":912,"v":0.905},{"i":913,"v":0.917},{"i":915,"v":0.926},{"i":916,"v":0.926},{"i":917,"v":0.917},{"i":919,"v":0.899},{"i":920,"v":0.892},{"i":922,"v":0.908},{"i":923,"v":0.910},{"i":924,"v":0.894},{"i":925,"v":0.905},{"i":927,"v":0.921},{"i":928,"v":0.924},{"i":930,"v":0.924},{"i":931,"v":0.926},{"i":932,"v":0.924},{"i":934,"v":0.926},{"i":935,"v":0.928},{"i":936,"v":0.926},{"i":938,"v":0.921},{"i":939,"v":0.930},{"i":940,"v":0.933},{"i":942,"v":0.933},{"i":943,"v":0.937},{"i":945,"v":0.940},{"i":946,"v":0.937},{"i":947,"v":0.944},{"i":949,"v":0.951},{"i":950,"v":0.953},{"i":951,"v":0.935},{"i":953,"v":0.933},{"i":954,"v":0.944},{"i":955,"v":0.946},{"i":957,"v":0.940},{"i":958,"v":0.928},{"i":959,"v":0.935},{"i":961,"v":0.935},{"i":962,"v":0.933},{"i":964,"v":0.935},{"i":965,"v":0.935},{"i":966,"v":0.933},{"i":968,"v":0.937},{"i":969,"v":0.935},{"i":970,"v":0.937},{"i":972,"v":0.942},{"i":973,"v":0.944},{"i":974,"v":0.933},{"i":976,"v":0.926},{"i":977,"v":0.924},{"i":978,"v":0.928},{"i":980,"v":0.940},{"i":981,"v":0.933},{"i":983,"v":0.933},{"i":984,"v":0.935},{"i":985,"v":0.953},{"i":987,"v":0.976},{"i":988,"v":0.980},{"i":989,"v":0.971},{"i":991,"v":0.969},{"i":992,"v":0.978},{"i":993,"v":0.985},{"i":995,"v":0.987},{"i":996,"v":0.985},{"i":997,"v":1.001},{"i":999,"v":1.021},{"i":1000,"v":1.024},{"i":1002,"v":1.026},{"i":1003,"v":1.003},{"i":1004,"v":1.008},{"i":1006,"v":1.005},{"i":1007,"v":1.010},{"i":1008,"v":1.010},{"i":1010,"v":1.010},{"i":1011,"v":1.005},{"i":1013,"v":1.001},{"i":1014,"v":0.992},{"i":1015,"v":0.992},{"i":1017,"v":0.987},{"i":1018,"v":0.990},{"i":1019,"v":0.987},{"i":1021,"v":0.994},{"i":1022,"v":0.994},{"i":1023,"v":1.008},{"i":1025,"v":1.008},{"i":1026,"v":1.012},{"i":1027,"v":1.015},{"i":1029,"v":1.010},{"i":1030,"v":1.010},{"i":1032,"v":1.005},{"i":1033,"v":0.999},{"i":1034,"v":0.990},{"i":1036,"v":1.005},{"i":1037,"v":1.017},{"i":1038,"v":1.021},{"i":1040,"v":1.012},{"i":1041,"v":1.015},{"i":1042,"v":1.012},{"i":1044,"v":1.015},{"i":1045,"v":1.019},{"i":1046,"v":1.035},{"i":1048,"v":1.040},{"i":1049,"v":1.040},{"i":1050,"v":1.040}
]},
"mark": {"type": "line", "strokeWidth": 3},
"encoding": {"color": {"datum": "b", "type": "nominal"}}
}
]
},
{
"width": 340,
"height": 917,
"data": {"values": [
{"k":0,"t":"帐户初始金额: 100000.00"},
{"k":1,"t":"累计投入本金: 100000.00"},
{"k":2,"t":"累计投入资产: 0.00"},
{"k":3,"t":"累计借入现金: 0.00"},
{"k":4,"t":"累计借入资产: 0.00"},
{"k":5,"t":"累计红利: 18874.10"},
{"k":6,"t":"现金余额: 134.10"},
{"k":7,"t":"未平仓头寸净值: 103490.00"},
{"k":8,"t":"当前总资产: 103624.10"},
{"k":9,"t":"已平仓交易总成本: 0.00"},
{"k":10,"t":"已平仓净利润总额: -3973.90"},
{"k":11,"t":"单笔交易最大占用现金比例%: 99.56"},
{"k":12,"t":"交易平均占用现金比例%: 66.27"},
{"k":13,"t":"已平仓帐户收益率%: -3.97"},
{"k":14,"t":"帐户年复合收益率%: 0.82"},
{"k":15,"t":"帐户平均年收益率%: 0.83"},
{"k":16,"t":"赢利交易赢利总额: 11347.60"},
{"k":17,"t":"亏损交易亏损总额: -15321.50"},
{"k":18,"t":"已平仓交易总数: 11.00"},
{"k":19,"t":"赢利交易数: 7.00"},
{"k":20,"t":"亏损交易数: 4.00"},
{"k":21,"t":"赢利交易比例%: 63.64"},
{"k":22,"t":"赢利期望值: -361.26"},
{"k":23,"t":"赢利交易平均赢利: 1621.09"},
{"k":24,"t":"亏损交易平均亏损: -3830.38"},
{"k":25,"t":"平均赢利/平均亏损比例: 0.42"},
{"k":26,"t":"净赢利/亏损比例: 0.74"},
{"k":27,"t":"最大单笔赢利: 3969.10"},
{"k":28,"t":"最大单笔盈利百分比%: 8.60"},
{"k":29,"t":"最大单笔亏损: -5985.50"},
{"k":30,"t":"最大单笔亏损百分比%: -11.23"},
{"k":31,"t":"赢利交易平均持仓时间: 159.00"},
{"k":32,"t":"赢利交易最大持仓时间: 544.00"},
{"k":33,"t":"亏损交易平均持仓时间: 189.50"},
{"k":34,"t":"亏损交易最大持仓时间: 658.00"},
{"k":35,"t":"空仓总时间: 201.00"},
{"k":36,"t":"空仓时间/总时间%: 12.00"},
{"k":37,"t":"平均空仓时间: 67.00"},
{"k":38,"t":"最长空仓时间: 142.00"},
{"k":39,"t":"最大连续赢利笔数: 4.00"},
{"k":40,"t":"最大连续亏损笔数: 1.00"},
{"k":41,"t":"最大连续赢利金额: 6302.10"},
{"k":42,"t":"最大连续亏损金额: -7854.00"},
{"k":43,"t":"R乘数期望值: -0.00"}
]},
"mark": {"type": "text", "align": "left", "baseline": "middle", "fontSize": 21, "font": "Noto Sans CJK SC", "color": "black"},
"encoding": {
"y": {"field": "k", "type": "quantitative", "scale": {"domain": [-0.45, 35.63], "reverse": true, "nice": false, "zero": false}, "axis": null},
"x": {"value": 0},
"text": {"field": "t"}
}
},
{
"width": 1288,
"height": 102,
"data": {"values": [
{"r": 0, "t": "投入总资产: 100000.00\u00a0\u00a0\u00a0\u00a0\u00a0当前总资产: 103624.10\u00a0\u00a0\u00a0\u00a0\u00a0当前盈利: 3624.10"},
{"r": 1, "t": "当前策略收益: 3.62%\u00a0\u00a0\u00a0\u00a0\u00a0年化收益率: 0.83%\u00a0\u00a0\u00a0\u00a0\u00a0最大回撤: -24.92%"},
{"r": 2, "t": "系统胜率: 63.64%\u00a0\u00a0\u00a0\u00a0\u00a0盈/亏比: 1 : 0.74\u00a0\u00a0\u00a0\u00a0\u00a0夏普比率: -0.03"}
]},
"mark": {"type": "text", "align": "left", "baseline": "middle", "fontSize": 21, "font": "Noto Sans CJK SC", "color": "black"},
"encoding": {
"y": {"field": "r", "type": "quantitative", "scale": {"domain": [0, 2], "reverse": true, "nice": false, "zero": false}, "axis": null},
"x": {"value": 26},
"text": {"field": "t"}
}
}
]
}
